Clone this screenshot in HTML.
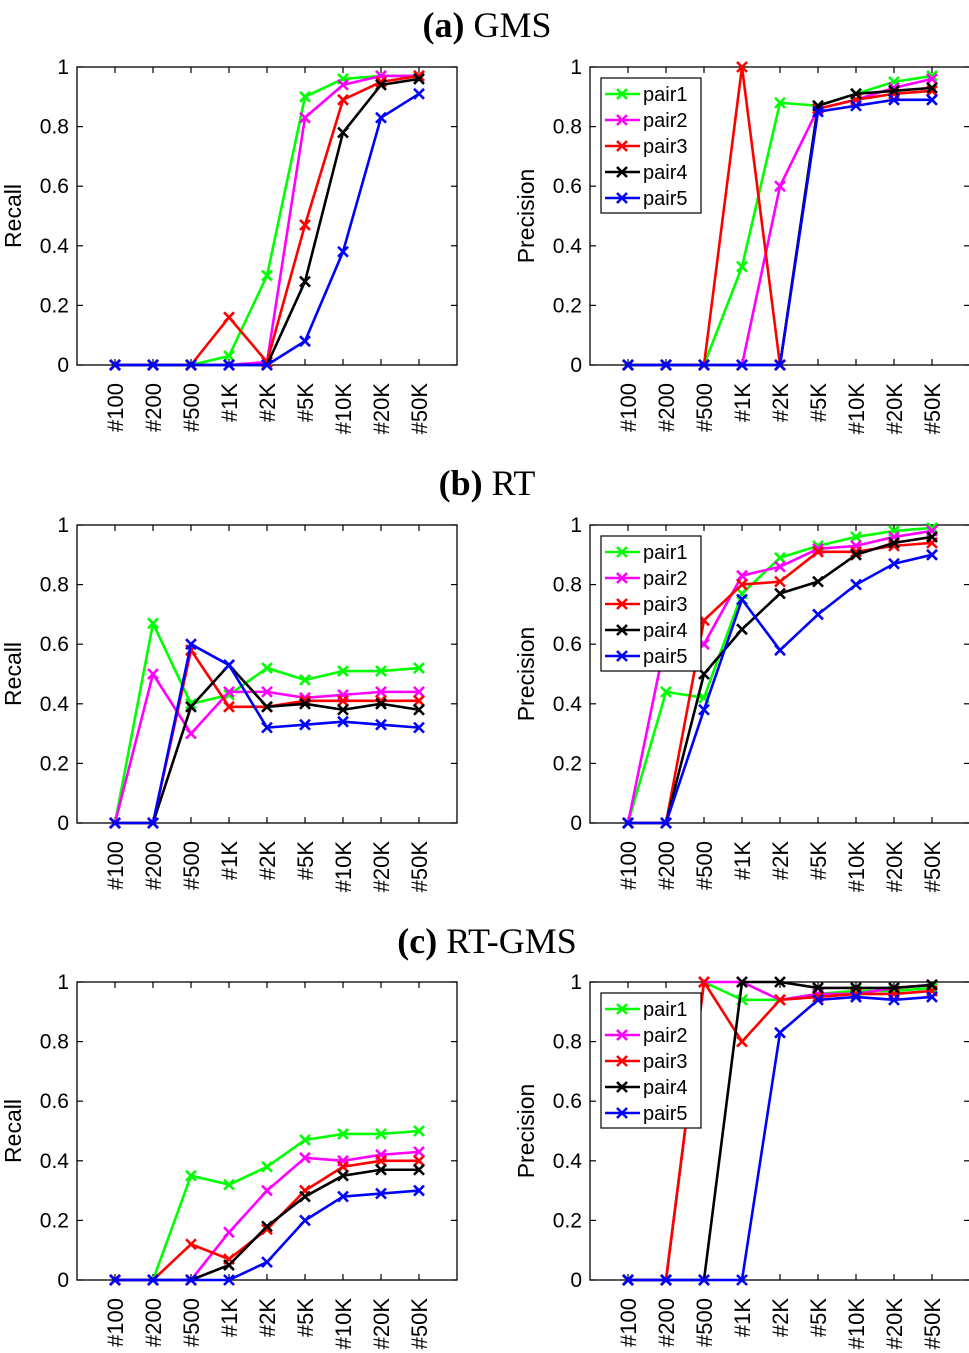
<!DOCTYPE html>
<html><head><meta charset="utf-8"><style>
html,body{margin:0;padding:0;background:#fff;}
svg{display:block;}
text{font-family:"Liberation Sans",Arial,sans-serif;}
</style></head><body>
<svg id="fig" width="969" height="1353" viewBox="0 0 969 1353" xmlns="http://www.w3.org/2000/svg"></svg>
<script>
const categories = ["#100","#200","#500","#1K","#2K","#5K","#10K","#20K","#50K"];
const seriesNames = ["pair1","pair2","pair3","pair4","pair5"];
const yTicks = [0,0.2,0.4,0.6,0.8,1];
const yTickLabels = ["0","0.2","0.4","0.6","0.8","1"];
// (a) GMS
const gmsRecall1 = [0,0,0,0.03,0.30,0.90,0.96,0.97,0.97];
const gmsRecall2 = [0,0,0,0,0.01,0.83,0.94,0.97,0.97];
const gmsRecall3 = [0,0,0,0.16,0.01,0.47,0.89,0.95,0.97];
const gmsRecall4 = [0,0,0,0,0,0.28,0.78,0.94,0.96];
const gmsRecall5 = [0,0,0,0,0,0.08,0.38,0.83,0.91];
const gmsPrec1 = [0,0,0,0.33,0.88,0.87,0.91,0.95,0.97];
const gmsPrec2 = [0,0,0,0,0.60,0.86,0.89,0.93,0.96];
const gmsPrec3 = [0,0,0,1,0,0.86,0.89,0.91,0.92];
const gmsPrec4 = [0,0,0,0,0,0.87,0.91,0.92,0.93];
const gmsPrec5 = [0,0,0,0,0,0.85,0.87,0.89,0.89];
// (b) RT
const rtRecall1 = [0,0.67,0.40,0.43,0.52,0.48,0.51,0.51,0.52];
const rtRecall2 = [0,0.50,0.30,0.44,0.44,0.42,0.43,0.44,0.44];
const rtRecall3 = [0,0,0.58,0.39,0.39,0.41,0.41,0.41,0.41];
const rtRecall4 = [0,0,0.39,0.53,0.39,0.40,0.38,0.40,0.38];
const rtRecall5 = [0,0,0.60,0.53,0.32,0.33,0.34,0.33,0.32];
const rtPrec1 = [0,0.44,0.42,0.77,0.89,0.93,0.96,0.98,0.99];
const rtPrec2 = [0,0.62,0.60,0.83,0.86,0.92,0.93,0.96,0.98];
const rtPrec3 = [0,0,0.68,0.80,0.81,0.91,0.91,0.93,0.94];
const rtPrec4 = [0,0,0.50,0.65,0.77,0.81,0.90,0.94,0.96];
const rtPrec5 = [0,0,0.38,0.75,0.58,0.70,0.80,0.87,0.90];
// (c) RT-GMS
const rgRecall1 = [0,0,0.35,0.32,0.38,0.47,0.49,0.49,0.50];
const rgRecall2 = [0,0,0,0.16,0.30,0.41,0.40,0.42,0.43];
const rgRecall3 = [0,0,0.12,0.07,0.17,0.30,0.38,0.40,0.40];
const rgRecall4 = [0,0,0,0.05,0.18,0.28,0.35,0.37,0.37];
const rgRecall5 = [0,0,0,0,0.06,0.20,0.28,0.29,0.30];
const rgPrec1 = [0,0,1,0.94,0.94,0.96,0.97,0.97,0.98];
const rgPrec2 = [0,0,1,1,0.94,0.96,0.96,0.98,0.99];
const rgPrec3 = [0,0,1,0.80,0.94,0.95,0.96,0.96,0.97];
const rgPrec4 = [0,0,0,1,1,0.98,0.98,0.98,0.99];
const rgPrec5 = [0,0,0,0,0.83,0.94,0.95,0.94,0.95];

const colors = ["#00ff00","#ff00ff","#ff0000","#000000","#0000ff"];
const NS = "http://www.w3.org/2000/svg";
const svg = document.getElementById('fig');
function mk(tag, attrs, parent){
  const e = document.createElementNS(NS, tag);
  for (const k in attrs) e.setAttribute(k, attrs[k]);
  (parent||svg).appendChild(e);
  return e;
}
function title(y, bold, rest, name){
  const t = mk('text', {x:487, y:y, 'text-anchor':'middle', 'font-size':36, style:'font-family:"Liberation Serif",serif'});
  
  
  const b = mk('tspan', {'font-weight':'bold'}, t); b.textContent = bold;
  const r = mk('tspan', {}, t); r.textContent = ' ' + rest;
}
title(37,'(a)','GMS','title-a');
title(495,'(b)','RT','title-b');
title(953,'(c)','RT-GMS','title-c');

function panel(x0, top, bottom, ylabel, series, legend, name){
  const g = mk('g', {});
  
  
  const w = 380;
  const xs = i => x0 + 38*(i+1);
  const ys = v => bottom - v*(bottom-top);
  const box = mk('rect', {x:x0, y:top, width:w, height:bottom-top, fill:'none', stroke:'#000', 'stroke-width':1.3}, g);
  
  
  yTicks.forEach((v,i)=>{
    const y = ys(v);
    mk('line',{x1:x0,x2:x0+6,y1:y,y2:y,stroke:'#000','stroke-width':1.2},g);
    mk('line',{x1:x0+w,x2:x0+w-6,y1:y,y2:y,stroke:'#000','stroke-width':1.2},g);
    const t = mk('text',{x:x0-8,y:y+7,'text-anchor':'end','font-size':21},g);
    t.textContent = yTickLabels[i];
    
    
  });
  categories.forEach((c,i)=>{
    const x = xs(i);
    mk('line',{x1:x,x2:x,y1:bottom,y2:bottom-6,stroke:'#000','stroke-width':1.2},g);
    mk('line',{x1:x,x2:x,y1:top,y2:top+6,stroke:'#000','stroke-width':1.2},g);
    const t = mk('text',{x:0,y:0,'text-anchor':'end','font-size':22,transform:`translate(${x+8},${bottom+18}) rotate(-90)`},g);
    t.textContent = c;
    
    
  });
  const yl = mk('text',{x:0,y:0,'text-anchor':'middle','font-size':23,transform:`translate(${x0-56},${(top+bottom)/2}) rotate(-90)`},g);
  yl.textContent = ylabel;
  
  
  series.forEach((vals,s)=>{
    const pts = vals.map((v,i)=>xs(i)+','+ys(v)).join(' ');
    const pl = mk('polyline',{points:pts,fill:'none',stroke:colors[s],'stroke-width':2.6,'stroke-linejoin':'round'},g);
    
    
    vals.forEach((v,i)=>{
      const x = xs(i), y = ys(v), d = 5;
      const p = mk('path',{d:`M${x-d},${y-d}L${x+d},${y+d}M${x-d},${y+d}L${x+d},${y-d}`,stroke:colors[s],'stroke-width':2.6},g);
      
      
    });
  });
  if (legend){
    const lg = mk('g',{},g);
    
    
    const lx = x0+11, ly = top+11;
    mk('rect',{x:lx,y:ly,width:100,height:135,fill:'#fff',stroke:'#000','stroke-width':1.2},lg);
    seriesNames.forEach((n,s)=>{
      const y = ly+16+26*s;
      mk('line',{x1:lx+4,x2:lx+39,y1:y,y2:y,stroke:colors[s],'stroke-width':2.6},lg);
      mk('path',{d:`M${lx+16},${y-5}L${lx+26},${y+5}M${lx+16},${y+5}L${lx+26},${y-5}`,stroke:colors[s],'stroke-width':2.6},lg);
      const t = mk('text',{x:lx+42,y:y+7,'font-size':20},lg);
      t.textContent = n;
      
      
    });
  }
}
panel(77,67,365,'Recall',[gmsRecall1,gmsRecall2,gmsRecall3,gmsRecall4,gmsRecall5],false,'gms-recall-chart');
panel(590,67,365,'Precision',[gmsPrec1,gmsPrec2,gmsPrec3,gmsPrec4,gmsPrec5],true,'gms-precision-chart');
panel(77,525,823,'Recall',[rtRecall1,rtRecall2,rtRecall3,rtRecall4,rtRecall5],false,'rt-recall-chart');
panel(590,525,823,'Precision',[rtPrec1,rtPrec2,rtPrec3,rtPrec4,rtPrec5],true,'rt-precision-chart');
panel(77,982,1280,'Recall',[rgRecall1,rgRecall2,rgRecall3,rgRecall4,rgRecall5],false,'rtgms-recall-chart');
panel(590,982,1280,'Precision',[rgPrec1,rgPrec2,rgPrec3,rgPrec4,rgPrec5],true,'rtgms-precision-chart');
</script>
</body></html>
